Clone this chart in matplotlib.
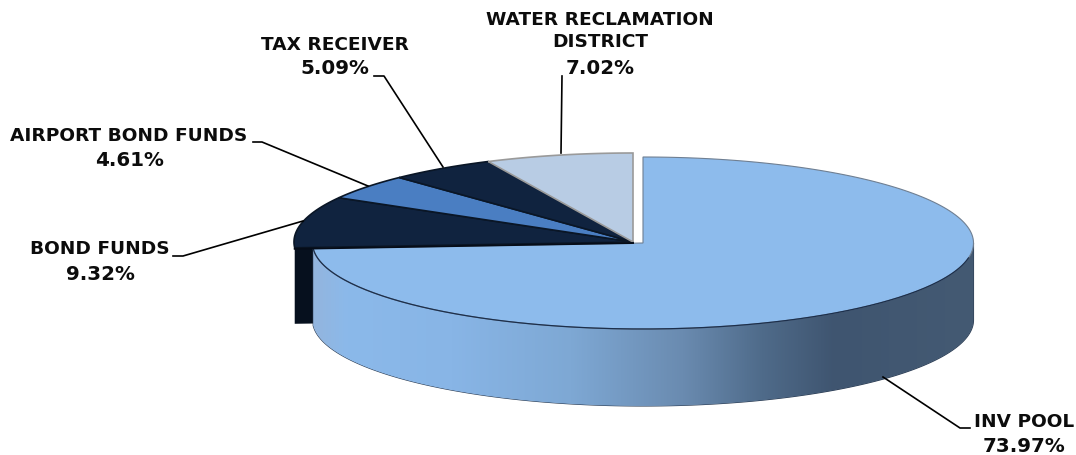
import numpy as np
import matplotlib
matplotlib.use("Agg")
import matplotlib.pyplot as plt
from matplotlib.colors import LinearSegmentedColormap
from matplotlib.patches import Polygon

plt.rcParams["font.family"] = ["DejaVu Sans"]

# slices, clockwise from 12 o'clock
names = ["INV POOL", "BOND FUNDS", "AIRPORT BOND FUNDS", "TAX RECEIVER", "WATER RECLAMATION\nDISTRICT"]
shares = [73.97, 9.32, 4.61, 5.09, 7.02]
colors = ["#8DBBEC", "#10233F", "#4A7EC2", "#10233F", "#B8CCE4"]

W, H = 1076, 455
MAIN_C, MAIN_R = (643, 243), (330.5, 86)
REST_C, REST_R = (633, 242), (339, 89)
DEPTH = 77


def arc(center, radii, a0, a1, n=200):
    t = np.radians(np.linspace(a0, a1, n))
    return np.column_stack([center[0] + radii[0] * np.sin(t), center[1] - radii[1] * np.cos(t)])


fig = plt.figure(figsize=(W / 100, H / 100), dpi=100)
ax = fig.add_axes([0, 0, 1, 1])
ax.set_xlim(0, W)
ax.set_ylim(H, 0)
ax.axis("off")

edges = np.cumsum([0] + shares) / sum(shares) * 360

# cut face of bond funds, seen under the left end of the big slice
outer = arc(REST_C, REST_R, edges[1], edges[1], 1)[0] + [0, -2]
ax.add_patch(Polygon([REST_C, outer, outer + [0, DEPTH + 1], (REST_C[0], REST_C[1] + DEPTH)],
                     facecolor="#06101E", edgecolor="none", zorder=1))

for i in range(1, 5):
    pts = np.vstack([[REST_C], arc(REST_C, REST_R, edges[i], edges[i + 1])])
    ec = "#9a9a9a" if i == 4 else "#0a1626"
    ax.add_patch(Polygon(pts, facecolor=colors[i], edgecolor=ec, linewidth=1.2, zorder=2))

# side wall of the big slice with its horizontal shading
top = arc(MAIN_C, MAIN_R, 90, edges[1])
wall = np.vstack([top, top[::-1] + [0, DEPTH]])
wall_patch = Polygon(wall, facecolor="none", edgecolor="#2a3a50", linewidth=0.8, zorder=3)
ax.add_patch(wall_patch)
shade = LinearSegmentedColormap.from_list("wall", [
    (0.00, "#93B5DE"), (0.05, "#8BB9EA"), (0.21, "#88B5E6"), (0.39, "#7EA8D4"),
    (0.56, "#6A8BB0"), (0.68, "#4F6B8A"), (0.79, "#3F5570"), (1.00, "#445A73")])
img = ax.imshow(np.linspace(0, 1, 256)[None, :], cmap=shade, aspect="auto", zorder=3,
                extent=(wall[:, 0].min(), wall[:, 0].max(), wall[:, 1].max(), wall[:, 1].min()))
img.set_clip_path(wall_patch)
ax.set_xlim(0, W)
ax.set_ylim(H, 0)

# top face of the big slice
pts = np.vstack([[MAIN_C], arc(MAIN_C, MAIN_R, 0, edges[1])])
ax.add_patch(Polygon(pts, facecolor=colors[0], edgecolor="#6f7f92", linewidth=0.8, zorder=4))
ax.plot(*arc(MAIN_C, MAIN_R, 100, edges[1]).T, color="#1c2f4c", lw=0.9, zorder=5)
ax.plot([outer[0], REST_C[0]], [outer[1] + 3, REST_C[1] + 1], color="#050c18", lw=1.4, zorder=5)

# labels and leader lines
label_xy = [(1024, 422), (100, 249), (129, 136), (335, 45), (600, 31)]
pct_y = [446, 274, 161, 69, 68]
leaders = [
    [(970, 428), (960, 428), (883, 377)],
    [(173, 256), (183, 256), (303, 221)],
    [(253, 142), (262, 142), (368, 186)],
    [(374, 76), (384, 76), (443, 167)],
    [(562, 76), (561, 153)],
]
for i in range(5):
    ax.text(label_xy[i][0], label_xy[i][1], names[i], ha="center", va="center",
            fontsize=13.3, fontweight="bold", color="#0c0c0c", linespacing=1.27, zorder=6)
    ax.text(label_xy[i][0], pct_y[i], f"{shares[i]:.2f}%", ha="center", va="center",
            fontsize=14.3, fontweight="bold", color="#0c0c0c", zorder=6)
    ax.plot(*zip(*leaders[i]), color="black", lw=1.2, zorder=6)

fig.savefig("out.png", dpi=100)
